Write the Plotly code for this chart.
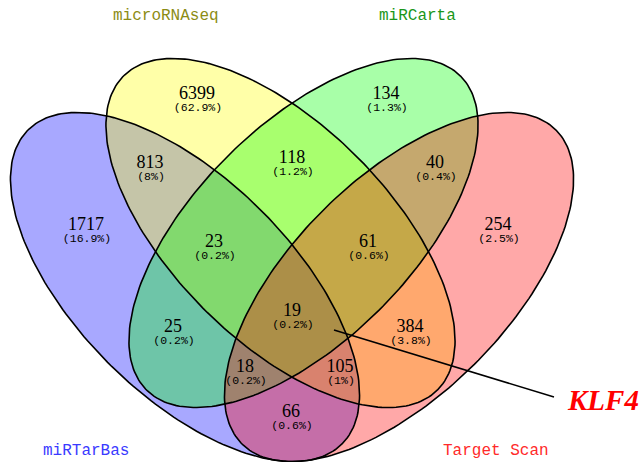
import numpy as np
import plotly.graph_objects as go

# ---- data ----
set_names = ["miRTarBas", "microRNAseq", "miRCarta", "Target Scan"]
region_counts = [6399, 134, 813, 118, 40, 1717, 23, 61, 254, 19, 25, 384, 18, 105, 66]
region_pcts = [62.9, 1.3, 8, 1.2, 0.4, 16.9, 0.2, 0.6, 2.5, 0.2, 0.2, 3.8, 0.2, 1, 0.6]
highlight_gene = "KLF4"

# ---- layout geometry (pixel-like data coordinates) ----
W, H = 640, 462
region_pos = [(197, 94), (386, 94), (150, 163), (292, 158), (435, 163),
              (86, 225), (214, 242), (368, 242), (498, 225), (292, 311),
              (173, 327), (410, 327), (245, 367), (340, 367), (291, 412)]
ell_centers = [(185, 287), (280.5, 233), (303.5, 233), (399, 287)]
ell_dirs = [1, 1, -1, -1]
ell_A, ell_B = 222, 108
fill_colors = ["rgba(0,0,255,0.34)", "rgba(255,255,0,0.34)",
               "rgba(0,255,0,0.34)", "rgba(255,0,0,0.34)"]
name_colors = ["#3a3aff", "#8c8c14", "#1a961a", "#ff2a2a"]
name_pos = [(86, 451), (166, 16), (417, 16), (496, 451)]


def ellipse(cx, cy, d, n=240):
    t = np.linspace(0, 2 * np.pi, n)
    u = ell_A * np.cos(t)
    v = ell_B * np.sin(t)
    ang = d * np.pi / 4
    x = cx + u * np.cos(ang) - v * np.sin(ang)
    y = cy + u * np.sin(ang) + v * np.cos(ang)
    return x, y


fig = go.Figure()
for (cx, cy), d, fc in zip(ell_centers, ell_dirs, fill_colors):
    x, y = ellipse(cx, cy, d)
    fig.add_trace(go.Scatter(x=x, y=y, mode="lines", fill="toself",
                             fillcolor=fc, line=dict(width=0),
                             hoverinfo="skip", showlegend=False))
for (cx, cy), d in zip(ell_centers, ell_dirs):
    x, y = ellipse(cx, cy, d)
    fig.add_trace(go.Scatter(x=x, y=y, mode="lines",
                             line=dict(color="black", width=1.6),
                             hoverinfo="skip", showlegend=False))

# region labels
fig.add_trace(go.Scatter(
    x=[p[0] for p in region_pos], y=[p[1] for p in region_pos],
    mode="text", text=[str(c) for c in region_counts],
    textfont=dict(family="Liberation Serif", size=18, color="black"),
    hoverinfo="skip", showlegend=False))
fig.add_trace(go.Scatter(
    x=[p[0] + 1 for p in region_pos], y=[p[1] + 14.5 for p in region_pos],
    mode="text", text=[f"({p:g}%)" for p in region_pcts],
    textfont=dict(family="Liberation Mono", size=11.5, color="black"),
    hoverinfo="skip", showlegend=False))

# set names
for name, col, (x, y) in zip(set_names, name_colors, name_pos):
    fig.add_annotation(x=x, y=y, text=name, showarrow=False,
                       font=dict(family="Liberation Mono", size=16, color=col),
                       xanchor="center", yanchor="middle")

# highlight gene pointer
fig.add_shape(type="line", x0=334, y0=330, x1=554, y1=397,
              line=dict(color="black", width=1.5))
fig.add_annotation(x=565, y=400, text=f"<b><i>{highlight_gene}</i></b>",
                   showarrow=False, xanchor="left", yanchor="middle",
                   font=dict(family="Liberation Serif", size=29, color="#ff0000"))

fig.update_xaxes(range=[0, W], visible=False, fixedrange=True)
fig.update_yaxes(range=[H, 0], visible=False, fixedrange=True)
fig.update_layout(width=W, height=H, margin=dict(l=0, r=0, t=0, b=0),
                  plot_bgcolor="white", paper_bgcolor="white")
fig.write_html("out.html", config={"displayModeBar": False},
               post_script="document.body.style.margin='0';document.body.style.overflow='hidden';")
